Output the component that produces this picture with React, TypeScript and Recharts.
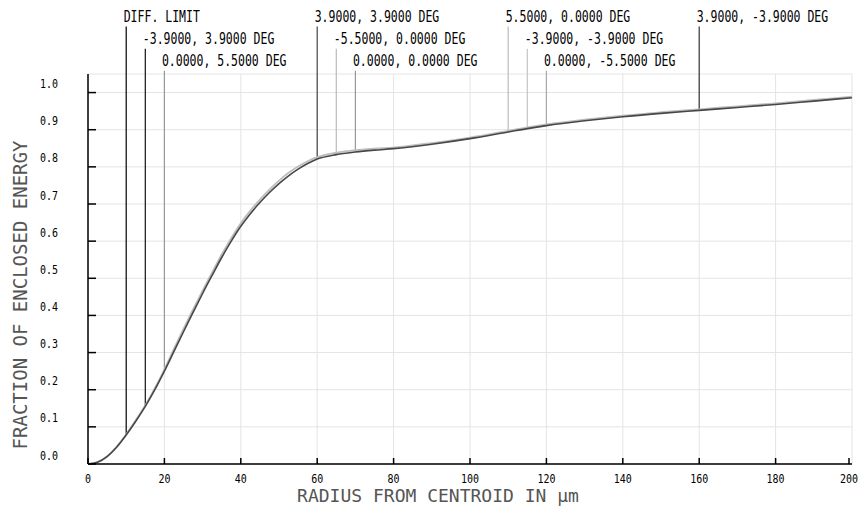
import React from 'react';
import { ComposedChart, Line, XAxis, YAxis, CartesianGrid, ReferenceLine } from 'recharts';

const radius = [0, 2.5, 5, 7.5, 10, 12.5, 15, 17.5, 20, 22.5, 25, 27.5, 30, 32.5, 35, 37.5, 40, 42.5, 45, 47.5, 50, 52.5, 55, 57.5, 60, 65, 70, 75, 80, 90, 100, 110, 115, 120, 130, 140, 150, 160, 170, 180, 190, 200];
const darkCurve = [0, 0.005, 0.02, 0.045, 0.078, 0.115, 0.155, 0.2, 0.25, 0.303, 0.356, 0.408, 0.459, 0.508, 0.556, 0.6, 0.64, 0.674, 0.704, 0.731, 0.755, 0.776, 0.794, 0.809, 0.821, 0.833, 0.84, 0.845, 0.849, 0.861, 0.876, 0.894, 0.903, 0.911, 0.924, 0.935, 0.944, 0.952, 0.96, 0.968, 0.977, 0.986];
const lightCurve = [0, 0.005, 0.021, 0.047, 0.08, 0.118, 0.158, 0.204, 0.255, 0.31, 0.364, 0.416, 0.467, 0.516, 0.564, 0.608, 0.648, 0.682, 0.712, 0.739, 0.763, 0.784, 0.801, 0.815, 0.826, 0.838, 0.845, 0.849, 0.852, 0.864, 0.879, 0.897, 0.906, 0.914, 0.927, 0.938, 0.947, 0.955, 0.963, 0.971, 0.98, 0.989];

const xTicks = [0, 20, 40, 60, 80, 100, 120, 140, 160, 180, 200];
const yTicks = [0, 0.1, 0.2, 0.3, 0.4, 0.5, 0.6, 0.7, 0.8, 0.9, 1.0];

const markerLabels = ['DIFF. LIMIT', '-3.9000, 3.9000 DEG', '0.0000, 5.5000 DEG', '3.9000, 3.9000 DEG', '-5.5000, 0.0000 DEG', '0.0000, 0.0000 DEG', '5.5000, 0.0000 DEG', '-3.9000, -3.9000 DEG', '0.0000, -5.5000 DEG', '3.9000, -3.9000 DEG'];
const markerRadius = [10, 15, 20, 60, 65, 70, 110, 115, 120, 160];
const markerRow = [0, 1, 2, 0, 1, 2, 0, 1, 2, 0];
const rowTop = [1.178, 1.118, 1.059];
const markerColor = ['#000', '#111', '#999', '#444', '#bbb', '#999', '#bbb', '#c4c4c4', '#aaa', '#333'];

const data = radius.map((r, i) => ({ r, dark: darkCurve[i], light: lightCurve[i] }));

const mono = 'DejaVu Sans Mono';

function TallText({ x, y, size, scale = 1.35, anchor = 'start', children }: any) {
  return (
    <text
      transform={`translate(${x} ${y}) scale(1 ${scale})`}
      x={0}
      y={0}
      fontFamily={mono}
      fontSize={size}
      textAnchor={anchor}
      fill="#000"
    >
      {children}
    </text>
  );
}

function LeftTick({ x, y, payload }: any) {
  return (
    <g>
      <line x1={x} x2={x + 8} y1={y} y2={y} stroke="#000" strokeWidth={1.5} />
      <TallText x={x - 48} y={y - 4.5} size={10} scale={1.15}>{payload.value.toFixed(1)}</TallText>
    </g>
  );
}

function RightTick({ x, y }: any) {
  return <line x1={x} x2={x - 8} y1={y} y2={y} stroke="#000" strokeWidth={1.5} />;
}

function BottomTick({ x, y, payload }: any) {
  return (
    <g>
      <line x1={x} x2={x} y1={y} y2={y - 6} stroke="#000" strokeWidth={1.5} />
      <TallText x={x} y={y + 19} size={10} scale={1.15} anchor="middle">{payload.value}</TallText>
    </g>
  );
}

function TopTick({ x, y }: any) {
  return <line x1={x} x2={x} y1={y} y2={y + 6} stroke="#000" strokeWidth={1.5} />;
}

export default function App() {
  return (
    <div style={{ position: 'absolute', left: 0, top: 0, width: 861, height: 510, background: '#fff' }}>
      <ComposedChart width={861} height={510} data={data} margin={{ top: 74, right: 9, bottom: 0, left: 0 }}>
        <CartesianGrid stroke="#e4e4e4" strokeWidth={1} />
        <XAxis
          dataKey="r"
          type="number"
          domain={[0, 200]}
          ticks={xTicks}
          height={46}
          tickSize={0}
          tickMargin={0}
          tickLine={false}
          axisLine={{ stroke: '#000', strokeWidth: 1.5 }}
          tick={<BottomTick />}
          label={() => (
            <text x={438} y={502} textAnchor="middle" fontFamily={mono} fontSize={18} fill="#555">
              RADIUS FROM CENTROID IN μm
            </text>
          )}
        />
        <XAxis
          xAxisId="top"
          orientation="top"
          dataKey="r"
          type="number"
          domain={[0, 200]}
          ticks={xTicks}
          height={0}
          tickSize={0}
          tickMargin={0}
          tickLine={false}
          axisLine={{ stroke: '#000', strokeWidth: 1.5 }}
          tick={<TopTick />}
        />
        <YAxis
          type="number"
          domain={[0, 1.05]}
          ticks={yTicks}
          width={88}
          tickSize={0}
          tickMargin={0}
          tickLine={false}
          axisLine={{ stroke: '#000', strokeWidth: 1.5 }}
          tick={<LeftTick />}
          label={() => (
            <text
              x={20}
              y={295}
              transform="rotate(-90 20 295)"
              textAnchor="middle"
              dominantBaseline="central"
              fontFamily={mono}
              fontSize={19}
              fill="#555"
            >
              FRACTION OF ENCLOSED ENERGY
            </text>
          )}
        />
        <YAxis
          yAxisId="right"
          orientation="right"
          type="number"
          domain={[0, 1.05]}
          ticks={yTicks}
          width={0}
          tickSize={0}
          tickMargin={0}
          tickLine={false}
          axisLine={{ stroke: '#000', strokeWidth: 1.5 }}
          tick={<RightTick />}
        />
        {markerLabels.map((label, i) => {
          const r = markerRadius[i];
          const end = darkCurve[radius.indexOf(r)];
          return (
            <ReferenceLine
              key={label}
              segment={[{ x: r, y: rowTop[markerRow[i]] }, { x: r, y: end }]}
              ifOverflow="visible"
              stroke={markerColor[i]}
              strokeWidth={1.2}
              label={(p: any) => (
                <TallText x={p.viewBox.x - 2.5} y={p.viewBox.y - 4.5} size={11.5}>{label}</TallText>
              )}
            />
          );
        })}
        <Line type="monotone" dataKey="light" stroke="#bdbdbd" strokeWidth={1.8} dot={false} isAnimationActive={false} />
        <Line type="monotone" dataKey="dark" stroke="#474747" strokeWidth={1.6} dot={false} isAnimationActive={false} />
      </ComposedChart>
    </div>
  );
}
